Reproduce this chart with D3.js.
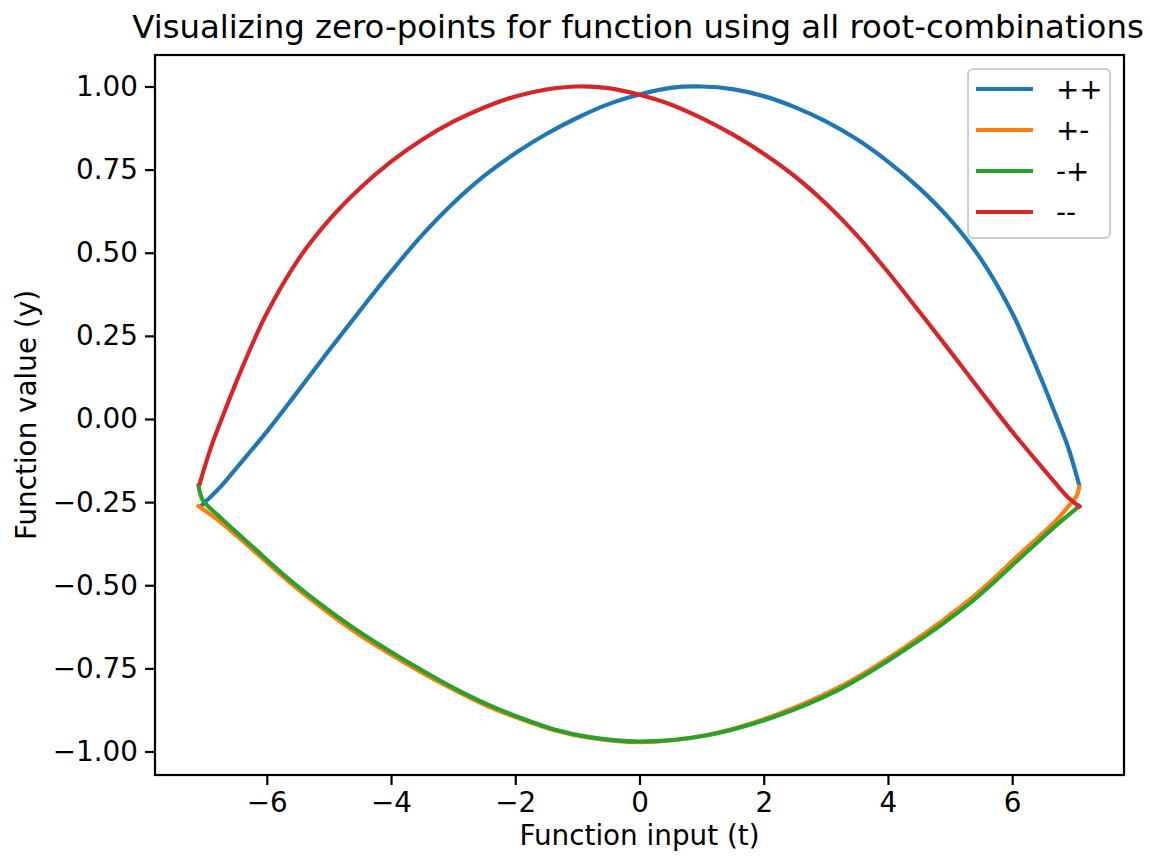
<!DOCTYPE html>
<html>
<head>
<meta charset="utf-8">
<script src="https://cdn.jsdelivr.net/npm/d3@7"></script>
<style>
  html, body { margin: 0; padding: 0; background: #fff; }
  svg { display: block; font-family: "DejaVu Sans", sans-serif; }
</style>
</head>
<body>
<svg id="chart" width="1150" height="858"></svg>
<script>
// Series labels and colours (root-sign combinations)
const seriesNames = ["++", "+-", "-+", "--"];
const seriesColors = ["#1f77b4", "#ff7f0e", "#2ca02c", "#d62728"];

// ++ branch
const tPP = [-7.05, -6.75, -6.5, -6.0, -5.5, -5.0, -4.5, -4.0, -3.5, -3.0, -2.5, -2.0, -1.5, -1.0, -0.5, 0.0, 0.5, 1.0, 1.5, 2.0, 2.5, 3.0, 3.5, 4.0, 4.5, 5.0, 5.5, 6.0, 6.25, 6.5, 6.7, 6.9, 7.07];
const yPP = [-0.260, -0.205, -0.150, -0.038, 0.083, 0.206, 0.326, 0.443, 0.553, 0.649, 0.731, 0.799, 0.857, 0.906, 0.947, 0.976, 0.996, 1.000, 0.992, 0.971, 0.938, 0.895, 0.841, 0.774, 0.695, 0.600, 0.480, 0.319, 0.216, 0.106, 0.012, -0.085, -0.193];

// +- branch
const tPM = [-7.10, -6.73, -6.20, -5.66, -5.12, -4.59, -4.05, -3.51, -2.98, -2.44, -1.90, -1.37, -0.83, 0.00, 1.07, 2.15, 3.22, 4.29, 5.37, 6.17, 6.71, 6.92, 7.03, 7.08];
const yPM = [-0.262, -0.312, -0.398, -0.487, -0.567, -0.639, -0.703, -0.762, -0.815, -0.864, -0.903, -0.936, -0.958, -0.972, -0.951, -0.893, -0.806, -0.684, -0.535, -0.398, -0.305, -0.259, -0.234, -0.204];

// -+ branch
const tMP = [-7.10, -7.03, -6.73, -6.20, -5.66, -5.12, -4.59, -4.05, -3.51, -2.98, -2.44, -1.90, -1.37, -0.83, 0.00, 1.07, 2.15, 3.22, 4.29, 5.37, 6.17, 6.71, 7.08];
const yMP = [-0.200, -0.244, -0.299, -0.389, -0.479, -0.559, -0.630, -0.695, -0.755, -0.810, -0.859, -0.900, -0.934, -0.956, -0.970, -0.952, -0.897, -0.813, -0.692, -0.546, -0.411, -0.320, -0.262];

// -- branch
const tMM = [-7.08, -6.9, -6.7, -6.5, -6.25, -6.0, -5.5, -5.0, -4.5, -4.0, -3.5, -3.0, -2.5, -2.0, -1.5, -1.0, -0.5, 0.0, 0.5, 1.0, 1.5, 2.0, 2.5, 3.0, 3.5, 4.0, 4.5, 5.0, 5.5, 6.0, 6.5, 6.75, 6.9, 7.08];
const yMM = [-0.194, -0.086, 0.013, 0.107, 0.218, 0.318, 0.478, 0.598, 0.694, 0.774, 0.840, 0.894, 0.937, 0.970, 0.991, 1.000, 0.995, 0.975, 0.946, 0.905, 0.856, 0.798, 0.730, 0.648, 0.552, 0.442, 0.324, 0.204, 0.082, -0.038, -0.150, -0.205, -0.236, -0.263];

// Axis ticks
const xTicks = [-6, -4, -2, 0, 2, 4, 6];
const yTicks = [-1.00, -0.75, -0.50, -0.25, 0.00, 0.25, 0.50, 0.75, 1.00];

const titleText = "Visualizing zero-points for function using all root-combinations";
const xLabelText = "Function input (t)";
const yLabelText = "Function value (y)";

const series = [
  { name: seriesNames[0], color: seriesColors[0], t: tPP, y: yPP },
  { name: seriesNames[1], color: seriesColors[1], t: tPM, y: yPM },
  { name: seriesNames[2], color: seriesColors[2], t: tMP, y: yMP },
  { name: seriesNames[3], color: seriesColors[3], t: tMM, y: yMM }
];

const plot = { left: 155, right: 1124, top: 55, bottom: 775 };
const fontSize = 27.8;
const lineW = 4.2;

const svg = d3.select("#chart");

const x = d3.scaleLinear().domain([-7.80, 7.80]).range([plot.left, plot.right]);
const y = d3.scaleLinear().domain([-1.0707, 1.0947]).range([plot.bottom, plot.top]);

const fmtMinus = s => s.replace("-", "\u2212");

// Curves
const line = d3.line()
  .x(d => x(d[0]))
  .y(d => y(d[1]))
  .curve(d3.curveCatmullRom.alpha(0.5));

svg.append("clipPath").attr("id", "plotclip")
  .append("rect")
  .attr("x", plot.left).attr("y", plot.top)
  .attr("width", plot.right - plot.left).attr("height", plot.bottom - plot.top);

const curves = svg.append("g").attr("clip-path", "url(#plotclip)");
series.forEach(s => {
  const pts = s.t.map((t, i) => [t, s.y[i]]);
  curves.append("path")
    .attr("d", line(pts))
    .attr("fill", "none")
    .attr("stroke", s.color)
    .attr("stroke-width", lineW)
    .attr("stroke-linecap", "square")
    .attr("stroke-linejoin", "round");
});

// Axes
const xAxis = d3.axisBottom(x).tickValues(xTicks).tickSize(10).tickPadding(7)
  .tickFormat(d => fmtMinus(d3.format("d")(d)));
const yAxis = d3.axisLeft(y).tickValues(yTicks).tickSize(10).tickPadding(7)
  .tickFormat(d => fmtMinus(d3.format(".2f")(d)));

const gx = svg.append("g").attr("transform", `translate(0,${plot.bottom})`).call(xAxis);
const gy = svg.append("g").attr("transform", `translate(${plot.left},0)`).call(yAxis);
[gx, gy].forEach(g => {
  g.select(".domain").remove();
  g.selectAll(".tick line").attr("stroke", "#000").attr("stroke-width", 2.2);
  g.selectAll(".tick text")
    .attr("font-family", "DejaVu Sans")
    .attr("font-size", fontSize)
    .attr("fill", "#000");
});

// Frame
svg.append("rect")
  .attr("x", plot.left).attr("y", plot.top)
  .attr("width", plot.right - plot.left).attr("height", plot.bottom - plot.top)
  .attr("fill", "none").attr("stroke", "#000").attr("stroke-width", 2.2);

// Title, fitted to the width it occupies above the axes
const title = svg.append("text")
  .attr("x", 638).attr("y", 38)
  .attr("text-anchor", "middle")
  .attr("font-size", 33.3)
  .attr("fill", "#000")
  .text(titleText);
const titleLen = title.node().getComputedTextLength();
if (titleLen > 1012) title.attr("font-size", 33.3 * 1012 / titleLen);

svg.append("text")
  .attr("x", (plot.left + plot.right) / 2).attr("y", 845)
  .attr("text-anchor", "middle")
  .attr("font-size", fontSize)
  .attr("fill", "#000")
  .text(xLabelText);

svg.append("text")
  .attr("transform", `translate(36,${(plot.top + plot.bottom) / 2}) rotate(-90)`)
  .attr("text-anchor", "middle")
  .attr("font-size", fontSize)
  .attr("fill", "#000")
  .text(yLabelText);

// Legend
const lg = svg.append("g");
lg.append("rect")
  .attr("x", 968).attr("y", 69)
  .attr("width", 142).attr("height", 169)
  .attr("rx", 5).attr("ry", 5)
  .attr("fill", "#fff").attr("fill-opacity", 0.8)
  .attr("stroke", "#cccccc").attr("stroke-width", 2);

series.forEach((s, i) => {
  const cy = 89 + i * 41;
  lg.append("line")
    .attr("x1", 976).attr("x2", 1033)
    .attr("y1", cy).attr("y2", cy)
    .attr("stroke", s.color).attr("stroke-width", lineW);
  lg.append("text")
    .attr("x", 1056).attr("y", cy + 10)
    .attr("font-size", fontSize)
    .attr("fill", "#000")
    .text(s.name);
});
</script>
</body>
</html>
